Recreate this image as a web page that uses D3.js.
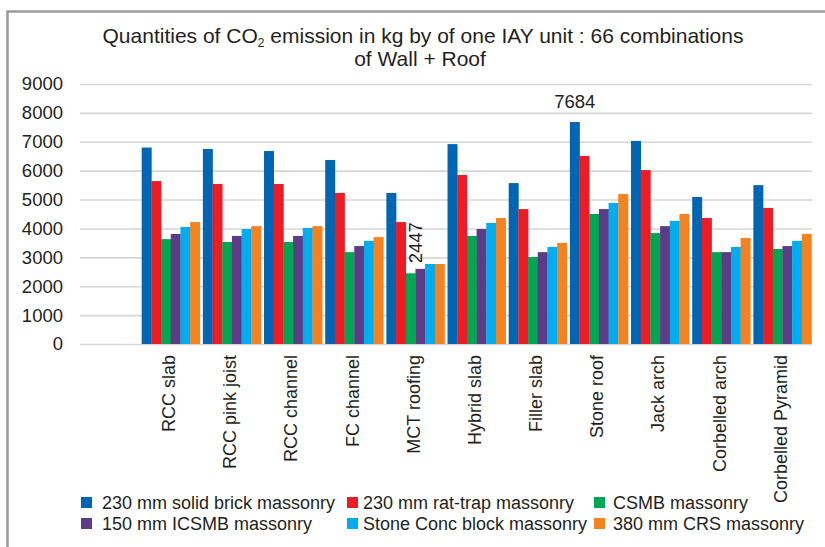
<!DOCTYPE html>
<html>
<head>
<meta charset="utf-8">
<script src="https://cdn.jsdelivr.net/npm/d3@7"></script>
<style>
  body { margin: 0; background: #fff; }
  svg { display: block; font-family: "Liberation Sans", Arial, sans-serif; }
</style>
</head>
<body>
<svg id="chart" width="825" height="547"></svg>
<script>
"use strict";

// roof types on x axis
const categories = ["RCC slab", "RCC pink joist", "RCC channel", "FC channel", "MCT roofing",
                    "Hybrid slab", "Filler slab", "Stone roof", "Jack arch", "Corbelled arch",
                    "Corbelled Pyramid"];

// wall types (series)
const seriesNames = ["230 mm solid brick massonry", "230 mm rat-trap massonry", "CSMB massonry",
                     "150 mm ICSMB massonry", "Stone Conc block massonry", "380 mm CRS massonry"];
const seriesColors = ["#0066b3", "#ed1c24", "#00a651", "#5e3b87", "#00aeef", "#f58220"];

// kg CO2
const solidBrick = [6800, 6750, 6680, 6370, 5230, 6920, 5570, 7684, 7030, 5090, 5500];
const ratTrap    = [5640, 5540, 5540, 5230, 4220, 5850, 4670, 6510, 6020, 4360, 4710];
const csmb       = [3630, 3530, 3530, 3180, 2447, 3740, 3010, 4500, 3840, 3180, 3290];
const icsmb      = [3810, 3740, 3740, 3390, 2600, 3980, 3180, 4670, 4080, 3180, 3390];
const stoneConc  = [4050, 3980, 4020, 3570, 2770, 4190, 3360, 4880, 4260, 3360, 3570];
const crs        = [4220, 4080, 4080, 3700, 2770, 4360, 3500, 5190, 4500, 3670, 3810];
const seriesValues = [solidBrick, ratTrap, csmb, icsmb, stoneConc, crs];

const yTicks = [0, 1000, 2000, 3000, 4000, 5000, 6000, 7000, 8000, 9000];

const svg = d3.select("#chart");

// frame
svg.append("path")
   .attr("d", "M7.5,547V11.5H825")
   .attr("fill", "none")
   .attr("stroke", "#9b9b9b")
   .attr("stroke-width", 2.5);

// title
const title = svg.append("text")
   .attr("text-anchor", "middle")
   .attr("font-size", 21)
   .attr("fill", "#231f20");
let t1 = title.append("tspan").attr("x", 423).attr("y", 43);
t1.append("tspan").text("Quantities of CO");
t1.append("tspan").attr("font-size", 12).attr("dy", 4).text("2");
t1.append("tspan").attr("dy", -4).text(" emission in kg by of one IAY unit : 66 combinations");
title.append("tspan").attr("x", 420).attr("y", 66).text("of Wall + Roof");

// scales, first slot left empty like the original sheet
const x0 = d3.scaleBand()
             .domain([""].concat(categories))
             .range([79, 813])
             .paddingInner(0.05)
             .paddingOuter(0.025);
const x1 = d3.scaleBand()
             .domain(d3.range(seriesNames.length))
             .range([0, x0.bandwidth()]);
const y = d3.scaleLinear()
            .domain([0, 9000])
            .range([344, 84]);

// grid
svg.append("g")
   .attr("transform", "translate(80,0)")
   .call(d3.axisLeft(y).tickValues(yTicks).tickSize(-732).tickFormat(""))
   .call(g => g.select(".domain").remove())
   .call(g => g.selectAll("line").attr("stroke", "#d6d6d6").attr("stroke-width", 1.6));

// y labels
svg.append("g")
   .attr("transform", "translate(80,0)")
   .call(d3.axisLeft(y).tickValues(yTicks).tickSize(0).tickPadding(17).tickFormat(d3.format("d")))
   .call(g => g.select(".domain").remove())
   .call(g => g.selectAll("text")
               .attr("font-family", "Liberation Sans, Arial, sans-serif")
               .attr("font-size", 18.5)
               .attr("fill", "#231f20"));

// bars
const groups = svg.append("g")
   .selectAll("g")
   .data(categories)
   .join("g")
   .attr("transform", d => "translate(" + x0(d) + ",0)");

groups.selectAll("rect")
      .data((d, i) => seriesValues.map((s, k) => ({k: k, v: s[i]})))
      .join("rect")
      .attr("x", d => x1(d.k))
      .attr("width", x1.bandwidth() + 0.3)
      .attr("y", d => y(d.v))
      .attr("height", d => y(0) - y(d.v))
      .attr("fill", d => seriesColors[d.k]);

// category labels
svg.append("g")
   .selectAll("text")
   .data(categories)
   .join("text")
   .attr("transform", d => "translate(" + (x0(d) + x0.bandwidth() / 2 - 2) + ",355) rotate(-90)")
   .attr("text-anchor", "end")
   .attr("dy", "0.35em")
   .attr("font-size", 18)
   .attr("fill", "#231f20")
   .text(d => d);

// data labels
const stoneIdx = categories.indexOf("Stone roof");
svg.append("text")
   .attr("x", x0("Stone roof") + x1(0) + x1.bandwidth() / 2)
   .attr("y", y(solidBrick[stoneIdx]) - 14)
   .attr("text-anchor", "middle")
   .attr("font-size", 18.5)
   .attr("fill", "#231f20")
   .text(solidBrick[stoneIdx]);

const mctIdx = categories.indexOf("MCT roofing");
svg.append("text")
   .attr("transform", "translate(" + (x0("MCT roofing") + x1(2) + x1.bandwidth() / 2 + 5) + "," + (y(csmb[mctIdx]) - 10) + ") rotate(-90)")
   .attr("dy", "0.35em")
   .attr("font-size", 18.5)
   .attr("fill", "#231f20")
   .text(csmb[mctIdx]);

// legend
const legX = [81, 347, 594];
const legPad = [21, 16, 19];
const legY = [503, 524];
const leg = svg.append("g")
   .selectAll("g")
   .data(seriesNames)
   .join("g")
   .attr("transform", (d, i) => "translate(" + legX[i % 3] + "," + legY[Math.floor(i / 3)] + ")");
leg.append("rect")
   .attr("x", 0).attr("y", -6)
   .attr("width", 11).attr("height", 11)
   .attr("fill", (d, i) => seriesColors[i]);
leg.append("text")
   .attr("x", (d, i) => legPad[i % 3])
   .attr("dy", "0.35em")
   .attr("font-size", 18)
   .attr("fill", "#231f20")
   .text(d => d);
</script>
</body>
</html>
